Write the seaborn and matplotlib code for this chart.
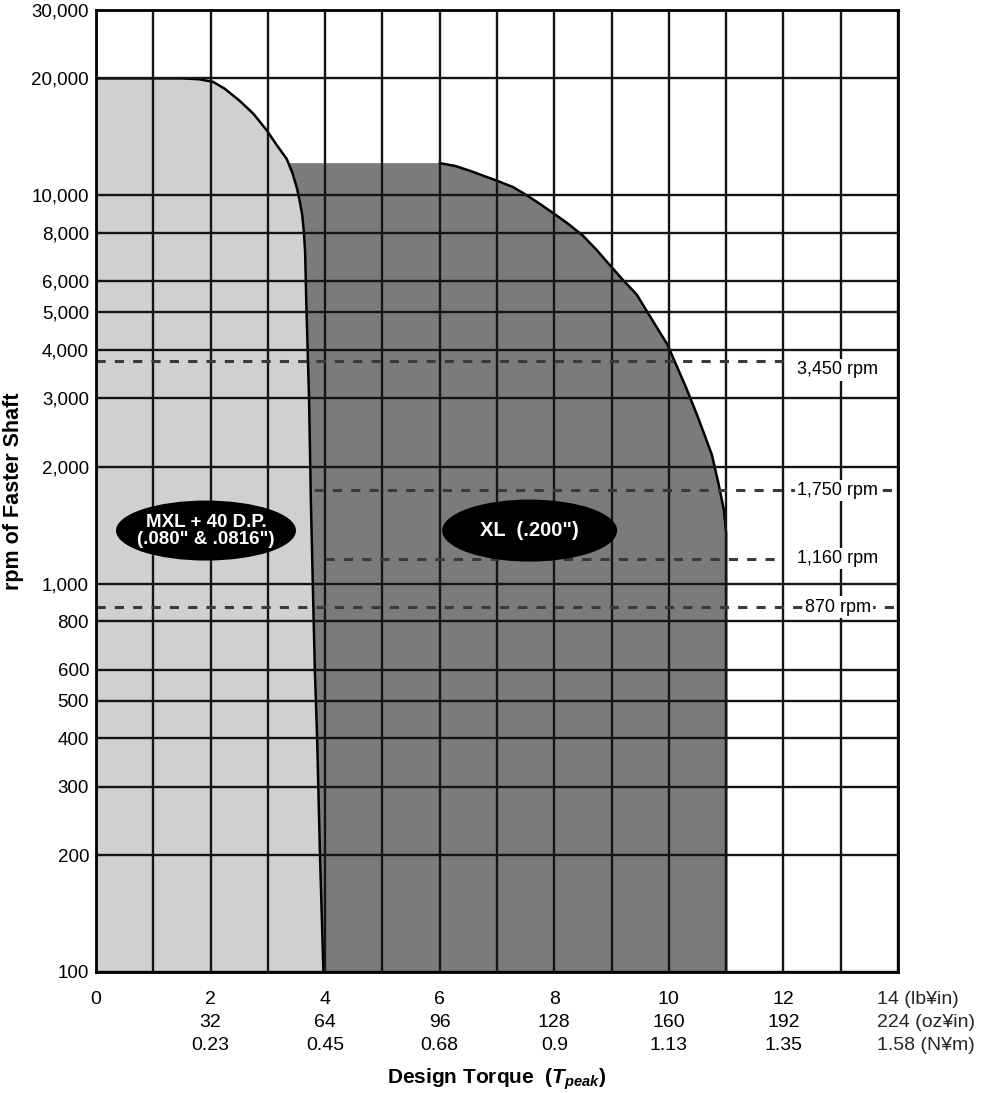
import matplotlib
matplotlib.use("Agg")
import matplotlib.pyplot as plt
import matplotlib.transforms as mtransforms
from matplotlib.patches import Ellipse
from matplotlib.ticker import FixedLocator, NullLocator
import seaborn as sns

# ---------------- data ----------------
mxl_torque = [0, 1.5, 1.8, 2.04, 2.25, 2.51, 2.75, 2.98, 3.15, 3.33, 3.43, 3.51, 3.56, 3.60, 3.63,
              3.65, 3.66, 3.67, 3.72, 3.75, 3.79, 3.82, 3.86, 3.91, 3.97]
mxl_rpm = [20000, 20000, 19900, 19600, 18800, 17500, 16200, 14700, 13500, 12400, 11400, 10400, 9600,
           8900, 8000, 7160, 6200, 5350, 2970, 1655, 921, 600, 400, 200, 100]

xl_torque = [0, 6.0, 6.27, 6.53, 7.0, 7.28, 7.52, 7.75, 7.98, 8.24, 8.50, 8.74, 8.97, 9.20, 9.44,
             9.70, 9.97, 10.3, 10.5, 10.75, 10.87, 10.96, 11.0, 11.0]
xl_rpm = [12100, 12100, 11900, 11560, 10900, 10500, 10000, 9500, 9000, 8450, 7870, 7230, 6610, 6050,
          5550, 4800, 4140, 3200, 2700, 2150, 1800, 1550, 1350, 100]

ref_rpm_line = [3750, 1740, 1160, 870]
ref_rpm_text = ["3,450 rpm", "1,750 rpm", "1,160 rpm", "870 rpm"]
ref_label_rpm = [3550, 1740, 1160, 870]
ref_start = [0, 3.8, 4.0, 0]
ref_end = [12, 14, 12, 14]
ref_label_torque = 12.95

y_ticks = [100, 200, 300, 400, 500, 600, 800, 1000, 2000, 3000, 4000, 5000, 6000, 8000, 10000, 20000, 30000]
x_ticks_lbin = [0, 2, 4, 6, 8, 10, 12, 14]
x_ticks_ozin = ["", "32", "64", "96", "128", "160", "192", "224"]
x_ticks_nm = ["", "0.23", "0.45", "0.68", "0.9", "1.13", "1.35", "1.58"]
x_units = ["(lb\u00a5in)", "(oz\u00a5in)", "(N\u00a5m)"]
x_grid_odd = [1, 3, 5, 7, 9, 11, 13]

region_names = ["MXL + 40 D.P.\n(.080\" & .0816\")", "XL  (.200\")"]
region_label_torque = [1.92, 7.57]
region_label_rpm = [1370, 1370]

# ---------------- style ----------------
sns.set_theme(style="white")
plt.rcParams["font.family"] = ["Liberation Sans", "DejaVu Sans"]
plt.rcParams["mathtext.fontset"] = "custom"
plt.rcParams["mathtext.it"] = "Liberation Sans:italic:bold"
plt.rcParams["mathtext.rm"] = "Liberation Sans:bold"
plt.rcParams["mathtext.bf"] = "Liberation Sans:bold"

fig = plt.figure(figsize=(9.85, 10.93), dpi=100)
ax = fig.add_axes([96 / 985, 121 / 1093, 802 / 985, 962 / 1093])
ax.set_yscale("log")
ax.set_xlim(0, 14)
ax.set_ylim(100, 30000)

# regions
ax.fill([0] + xl_torque, [100] + xl_rpm, color="#7b7b7b", lw=0, zorder=1)
sns.lineplot(x=xl_torque[1:], y=xl_rpm[1:], sort=False, estimator=None,
             color="black", lw=1.8, ax=ax, zorder=1.5)
ax.fill([0] + mxl_torque, [100] + mxl_rpm, color="#d0d0d0", lw=0, zorder=1.6)
sns.lineplot(x=mxl_torque, y=mxl_rpm, sort=False, estimator=None,
             color="black", lw=1.8, ax=ax, zorder=1.7)

# grid / ticks
ax.set_yticks(y_ticks, [f"{v:,}" for v in y_ticks])
ax.yaxis.set_minor_locator(NullLocator())
x_labels = []
for a, b, c in zip(x_ticks_lbin, x_ticks_ozin, x_ticks_nm):
    if b == "":
        x_labels.append(str(a))
    elif a == x_ticks_lbin[-1]:
        x_labels.append("")
    else:
        x_labels.append(f"{a}\n{b}\n{c}")
ax.set_xticks(x_ticks_lbin, x_labels)
ax.xaxis.set_minor_locator(FixedLocator(x_grid_odd))
ax.set_axisbelow(False)
ax.grid(which="both", axis="both", color="#151515", lw=1.7, zorder=2.5)
ax.tick_params(axis="x", which="both", length=0, pad=14, labelsize=14, colors="black")
ax.tick_params(axis="y", which="major", length=3, width=1.5, pad=2, labelsize=13.5, colors="black")
for lab in ax.get_xticklabels():
    lab.set_linespacing(1.45)
for s in ax.spines.values():
    s.set_color("black")
    s.set_linewidth(2)
    s.set_zorder(3)

# last x tick label with units
last = f"{x_ticks_lbin[-1]} {x_units[0]}\n{x_ticks_ozin[-1]} {x_units[1]}\n{x_ticks_nm[-1]} {x_units[2]}"
tr = ax.get_xaxis_transform() + mtransforms.ScaledTranslation(-21 / 100, -14 / 72, fig.dpi_scale_trans)
ax.text(x_ticks_lbin[-1], 0, last, transform=tr, ha="left", va="top", fontsize=14,
        multialignment="left", linespacing=1.45, clip_on=False)

# reference speed lines
ax.hlines(ref_rpm_line, ref_start, ref_end, colors="#3a3a3a", linestyles=(0, (3, 3)), lw=2.2, zorder=3)
for txt, r in zip(ref_rpm_text, ref_label_rpm):
    ax.text(ref_label_torque, r, txt, ha="center", va="center", fontsize=13, color="black",
            bbox=dict(fc="white", ec="none", pad=1.5), zorder=4)

# region labels
sizes = [(1.80, 0.60), (1.75, 0.62)]
fsizes = [13.5, 14.5]
for name, tx, ry, (w, h), fs in zip(region_names, region_label_torque, region_label_rpm, sizes, fsizes):
    etr = fig.dpi_scale_trans + mtransforms.ScaledTranslation(tx, ry, ax.transData)
    ax.add_patch(Ellipse((0, 0), w, h, transform=etr, fc="black", ec="none", zorder=5))
    ax.text(tx, ry, name, ha="center", va="center", color="white", fontsize=fs,
            fontweight="bold", linespacing=1.0, zorder=6)

ax.set_ylabel("rpm of Faster Shaft", fontsize=15.5, fontweight="bold", labelpad=5, color="black")
ax.set_xlabel("Design Torque  ($T_{peak}$)", fontsize=15, fontweight="bold", labelpad=9, color="black")

fig.savefig("out.png", dpi=100)
